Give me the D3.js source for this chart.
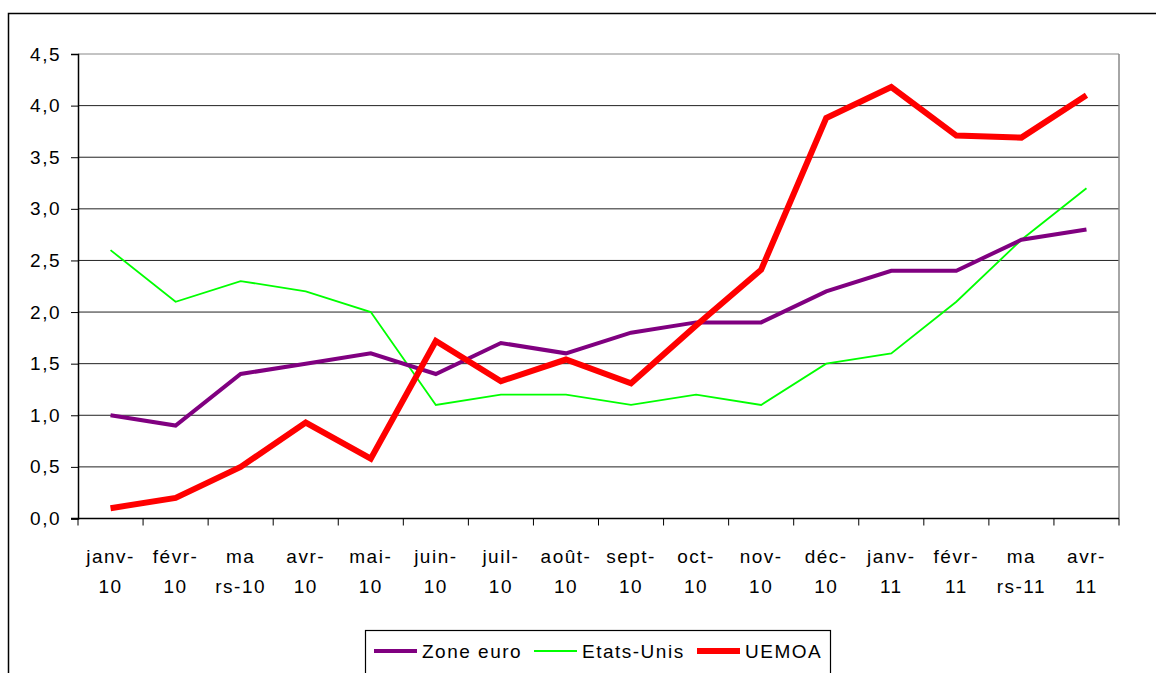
<!DOCTYPE html>
<html><head><meta charset="utf-8">
<script src="https://cdn.jsdelivr.net/npm/d3@7"></script>
<style>body{margin:0;background:#fff}svg{display:block}text{font-family:"Liberation Sans",Arial,sans-serif}</style>
</head><body>
<svg id="c" width="1156" height="673"></svg>
<script>
const categories = [["janv-","10"],["févr-","10"],["ma","rs-10"],["avr-","10"],["mai-","10"],["juin-","10"],["juil-","10"],["août-","10"],["sept-","10"],["oct-","10"],["nov-","10"],["déc-","10"],["janv-","11"],["févr-","11"],["ma","rs-11"],["avr-","11"]];
const zoneEuro = [1.0,0.9,1.4,1.5,1.6,1.4,1.7,1.6,1.8,1.9,1.9,2.2,2.4,2.4,2.7,2.8];
const etatsUnis = [2.6,2.1,2.3,2.2,2.0,1.1,1.2,1.2,1.1,1.2,1.1,1.5,1.6,2.1,2.7,3.2];
const uemoa = [0.1,0.2,0.5,0.93,0.58,1.72,1.33,1.54,1.31,1.87,2.41,3.88,4.18,3.71,3.69,4.1];
const yTicks = [0,0.5,1,1.5,2,2.5,3,3.5,4,4.5];
const seriesNames = ["Zone euro","Etats-Unis","UEMOA"];

const svg = d3.select("#c");
const L=78, R=1119, T=54, B=518.5;
const FS = 19, LS = "1.5px";
const x = d3.scaleBand().domain(d3.range(categories.length)).range([L,R]);
const y = d3.scaleLinear().domain([0,4.5]).range([B,T]);
const fmt = v => d3.format(".1f")(v).replace(".",",");

// outer frame
svg.append("rect").attr("x",8.5).attr("y",13.5).attr("width",1170).attr("height",700)
  .attr("fill","none").attr("stroke","#000").attr("stroke-width",1.5);

// gridlines
svg.append("g").selectAll("line").data(yTicks.filter(d=>d>0)).join("line")
  .attr("x1",L).attr("x2",R).attr("y1",d=>y(d)).attr("y2",d=>y(d))
  .attr("stroke",d=> (d===4.5)?"#888":"#222").attr("stroke-width",1);
// right border
svg.append("line").attr("x1",R).attr("x2",R).attr("y1",T).attr("y2",B).attr("stroke","#888").attr("stroke-width",1.5);

// y axis
const yAxis = svg.append("g").attr("transform",`translate(${L},0)`)
  .call(d3.axisLeft(y).tickValues(yTicks).tickFormat(fmt).tickSize(7).tickPadding(10));
yAxis.select(".domain").attr("stroke","#000").attr("stroke-width",1.5);
yAxis.selectAll("text").attr("font-size",FS).attr("fill","#000").attr("letter-spacing",LS)
  .attr("font-family","Liberation Sans, Arial");
yAxis.selectAll(".tick line").attr("stroke","#000");

// x axis line + ticks at boundaries
svg.append("line").attr("x1",L-7).attr("x2",R).attr("y1",B).attr("y2",B).attr("stroke","#000").attr("stroke-width",1.5);
const bounds = d3.range(categories.length+1).map(i=> i<categories.length ? x(i) : R);
svg.append("g").selectAll("line").data(bounds).join("line")
  .attr("x1",d=>d).attr("x2",d=>d).attr("y1",B).attr("y2",B+7).attr("stroke","#000").attr("stroke-width",1);

// x labels
const xl = svg.append("g").selectAll("text").data(categories).join("text")
  .attr("text-anchor","middle").attr("font-size",FS).attr("fill","#000").attr("letter-spacing",LS);
xl.append("tspan").attr("x",(d,i)=>x(i)+x.bandwidth()/2).attr("y",563).text(d=>d[0]);
xl.append("tspan").attr("x",(d,i)=>x(i)+x.bandwidth()/2).attr("y",593).text(d=>d[1]);

// lines
const line = d3.line().x((d,i)=>x(i)+x.bandwidth()/2).y(d=>y(d));
const styles = [
  {data:etatsUnis,color:"#00FF00",w:1.8},
  {data:zoneEuro,color:"#800080",w:4},
  {data:uemoa,color:"#FF0000",w:6}
];
svg.append("g").selectAll("path").data(styles).join("path")
  .attr("d",d=>line(d.data)).attr("fill","none").attr("stroke",d=>d.color).attr("stroke-width",d=>d.w)
  .attr("stroke-linejoin","miter");

// legend
const lg = svg.append("g");
lg.append("rect").attr("x",365.5).attr("y",630.5).attr("width",465).attr("height",60)
  .attr("fill","#fff").attr("stroke","#000").attr("stroke-width",1.2);
const legItems = [
  {name:seriesNames[0],color:"#800080",w:4,x1:374,x2:417,tx:422},
  {name:seriesNames[1],color:"#00FF00",w:2,x1:534,x2:577,tx:582},
  {name:seriesNames[2],color:"#FF0000",w:6,x1:697,x2:740,tx:745}
];
legItems.forEach(it=>{
  lg.append("line").attr("x1",it.x1).attr("x2",it.x2).attr("y1",651).attr("y2",651).attr("stroke",it.color).attr("stroke-width",it.w);
  lg.append("text").attr("x",it.tx).attr("y",657.5).attr("font-size",FS).attr("letter-spacing",LS).attr("fill","#000").text(it.name);
});
</script>
</body></html>
